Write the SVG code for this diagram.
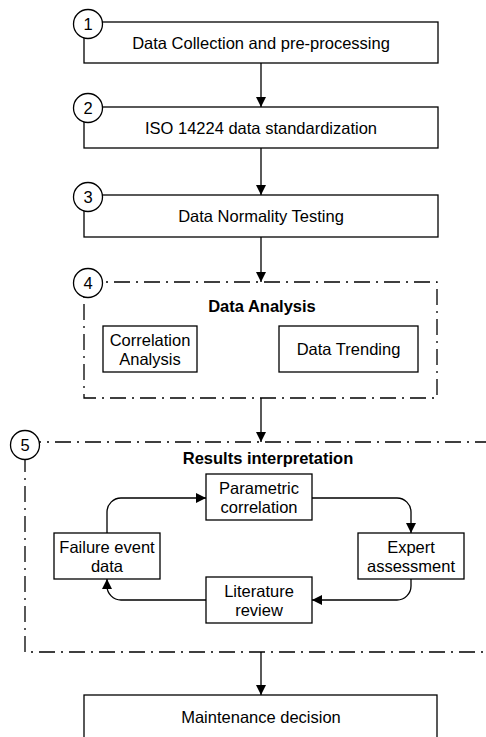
<svg xmlns="http://www.w3.org/2000/svg" width="486" height="737" viewBox="0 0 486 737">
  <style>
    .box { fill: #fff; stroke: #000; stroke-width: 1.3; }
    .group { fill: none; stroke: #000; stroke-width: 1.3; stroke-dasharray: 16 6 2 6; }
    .badge { fill: #fff; stroke: #000; stroke-width: 1.3; }
    .lbl { font-family: "Liberation Sans", Arial, sans-serif; font-size: 16.5px; fill: #000; text-anchor: middle; }
    .ttl { font-family: "Liberation Sans", Arial, sans-serif; font-size: 16.5px; font-weight: bold; fill: #000; text-anchor: middle; }
    .edge { fill: none; stroke: #000; stroke-width: 1.3; }
  </style>
  <defs>
    <marker id="head" viewBox="0 0 10 10" refX="10" refY="5" markerWidth="10" markerHeight="10" markerUnits="userSpaceOnUse" orient="auto">
      <path d="M0,0 L10,5 L0,10 z" fill="#000"/>
    </marker>
  </defs>
  <rect width="486" height="737" fill="#fff"/>

  <!-- connectors -->
  <g id="connectors" class="edge" marker-end="url(#head)">
    <path d="M261,63 V107"/>
    <path d="M261,148 V195"/>
    <path d="M261,237 V282"/>
    <path d="M261,398 V442"/>
    <path d="M261,652 V695"/>
    <path d="M107,533 V512 A14,14 0 0 1 121,498 H206"/>
    <path d="M312,498 H397 A14,14 0 0 1 411,512 V533"/>
    <path d="M411,579 V586 A14,14 0 0 1 397,600 H312"/>
    <path d="M206,600 H121 A14,14 0 0 1 107,586 V579"/>
  </g>

  <!-- step 1 -->
  <g id="step1">
    <rect class="box" x="84" y="22" width="354" height="41"/>
    <text class="lbl" x="261" y="49">Data Collection and pre-processing</text>
    <circle class="badge" cx="88" cy="24" r="14.5"/>
    <text class="lbl" x="88" y="30">1</text>
  </g>

  <!-- step 2 -->
  <g id="step2">
    <rect class="box" x="84" y="107" width="354" height="41"/>
    <text class="lbl" x="261" y="134">ISO 14224 data standardization</text>
    <circle class="badge" cx="88" cy="108" r="14.5"/>
    <text class="lbl" x="88" y="114">2</text>
  </g>

  <!-- step 3 -->
  <g id="step3">
    <rect class="box" x="84" y="195" width="354" height="42"/>
    <text class="lbl" x="261" y="222">Data Normality Testing</text>
    <circle class="badge" cx="88" cy="197" r="14.5"/>
    <text class="lbl" x="88" y="203">3</text>
  </g>

  <!-- step 4: data analysis group -->
  <g id="step4">
    <rect class="group" x="84" y="282" width="353" height="116"/>
    <text class="ttl" x="262" y="312">Data Analysis</text>
    <circle class="badge" cx="88" cy="283" r="14.5"/>
    <text class="lbl" x="88" y="289">4</text>
  </g>
  <g id="correlation-analysis">
    <rect class="box" x="103" y="326" width="94" height="46"/>
    <text class="lbl" x="150" y="346">Correlation</text>
    <text class="lbl" x="150" y="365">Analysis</text>
  </g>
  <g id="data-trending">
    <rect class="box" x="279" y="326" width="139" height="46"/>
    <text class="lbl" x="348.5" y="355">Data Trending</text>
  </g>

  <!-- step 5: results interpretation group -->
  <g id="step5">
    <rect class="group" x="25" y="442" width="480" height="210"/>
    <text class="ttl" x="268" y="464">Results interpretation</text>
    <circle class="badge" cx="25" cy="445" r="14.5"/>
    <text class="lbl" x="25" y="451">5</text>
  </g>
  <g id="parametric-correlation">
    <rect class="box" x="206" y="474" width="106" height="46"/>
    <text class="lbl" x="259" y="494">Parametric</text>
    <text class="lbl" x="259" y="513">correlation</text>
  </g>
  <g id="expert-assessment">
    <rect class="box" x="358" y="533" width="106" height="46"/>
    <text class="lbl" x="411" y="553">Expert</text>
    <text class="lbl" x="411" y="572">assessment</text>
  </g>
  <g id="literature-review">
    <rect class="box" x="206" y="577" width="106" height="46"/>
    <text class="lbl" x="259" y="597">Literature</text>
    <text class="lbl" x="259" y="616">review</text>
  </g>
  <g id="failure-event-data">
    <rect class="box" x="54" y="533" width="106" height="46"/>
    <text class="lbl" x="107" y="553">Failure event</text>
    <text class="lbl" x="107" y="572">data</text>
  </g>

  <!-- maintenance decision -->
  <g id="maintenance-decision">
    <rect class="box" x="84" y="695" width="353" height="60"/>
    <text class="lbl" x="261" y="723">Maintenance decision</text>
  </g>
</svg>
